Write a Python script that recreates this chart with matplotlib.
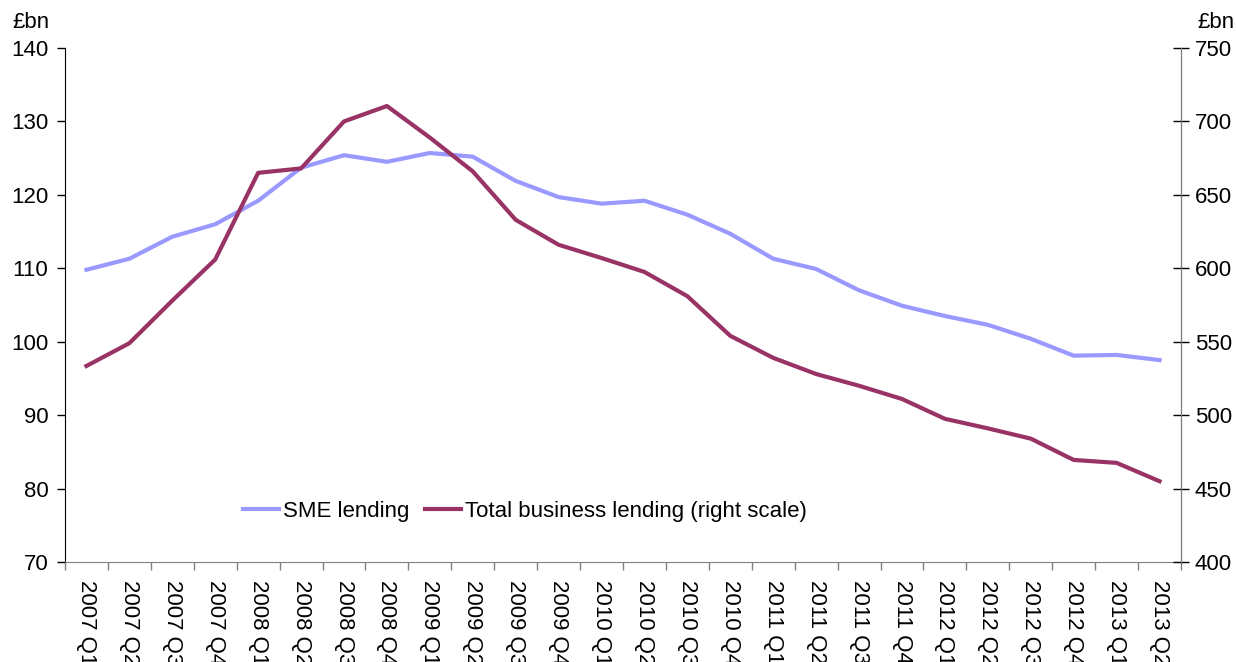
import matplotlib
matplotlib.use('Agg')
import numpy as np
import matplotlib.pyplot as plt

plt.rcParams['font.family'] = ['Liberation Sans', 'DejaVu Sans']

# Quarterly categories
quarters = ['2007 Q1', '2007 Q2', '2007 Q3', '2007 Q4',
            '2008 Q1', '2008 Q2', '2008 Q3', '2008 Q4',
            '2009 Q1', '2009 Q2', '2009 Q3', '2009 Q4',
            '2010 Q1', '2010 Q2', '2010 Q3', '2010 Q4',
            '2011 Q1', '2011 Q2', '2011 Q3', '2011 Q4',
            '2012 Q1', '2012 Q2', '2012 Q3', '2012 Q4',
            '2013 Q1', '2013 Q2']

# SME lending, £bn (left scale)
sme = [109.8, 111.3, 114.3, 116.0, 119.2, 123.7, 125.4, 124.5,
       125.7, 125.2, 121.9, 119.7, 118.8, 119.2, 117.3, 114.7,
       111.3, 109.9, 107.0, 104.9, 103.5, 102.3, 100.4, 98.1,
       98.2, 97.5]

# Total business lending, £bn (right scale)
total = [533.5, 549, 578, 606, 665, 668, 700, 710.5,
         689, 666, 633, 616, 607, 597.5, 581, 554,
         539, 528, 520, 511, 497.5, 491, 484, 469.5,
         467.5, 455]

SME_COL = '#9999ff'
TOT_COL = '#993366'
FS = 16

fig = plt.figure(figsize=(12.36, 6.62), dpi=100)
ax = fig.add_axes([65 / 1236, 1 - 562 / 662, (1181 - 65) / 1236, (562 - 48) / 662])
ax2 = ax.twinx()

x = np.arange(len(quarters))
l1, = ax.plot(x, sme, color=SME_COL, lw=3, label='SME lending')
l2, = ax2.plot(x, total, color=TOT_COL, lw=3, label='Total business lending (right scale)')

ax.set_xlim(-0.5, len(quarters) - 0.5)
ax.set_ylim(70, 140)
ax.set_yticks(np.arange(70, 141, 10))
ax2.set_ylim(400, 750)
ax2.set_yticks(np.arange(400, 751, 50))

# category ticks at bin edges, labels centred
ax.set_xticks(np.arange(-0.5, len(quarters), 1))
ax.set_xticklabels([])
ax.set_xticks(x, minor=True)
ax.set_xticklabels(quarters, minor=True, rotation=270, fontsize=FS)
ax.tick_params(axis='x', which='minor', length=0, pad=13)
ax.tick_params(axis='x', which='major', length=6, color='#808080', width=1)

ax.tick_params(axis='y', length=6, width=1, labelsize=FS, color='black', pad=6)
ax2.tick_params(axis='y', length=12, width=1, labelsize=FS, color='black',
                direction='inout', pad=4)

for a in (ax, ax2):
    a.spines['top'].set_visible(False)
ax.spines['left'].set_color('black')
ax.spines['bottom'].set_color('#808080')
ax2.spines['left'].set_visible(False)
ax2.spines['bottom'].set_visible(False)
ax2.spines['right'].set_color('#808080')

fig.text(12 / 1236, 1 - 22 / 662, '£bn', fontsize=FS, va='center', ha='left')
fig.text(1197 / 1236, 1 - 22 / 662, '£bn', fontsize=FS, va='center', ha='left')

ax.legend([l1, l2], [l1.get_label(), l2.get_label()], frameon=False, ncol=2,
          fontsize=FS, loc='center', bbox_to_anchor=(460 / 1116, 1 - (511 - 48) / 514),
          handlelength=1.6, handletextpad=0.2, columnspacing=0.7)

fig.savefig('out.png', dpi=100)
